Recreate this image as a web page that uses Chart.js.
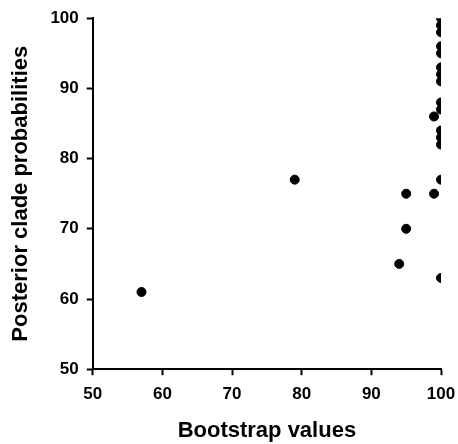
<!DOCTYPE html>
<html>
<head>
<meta charset="utf-8">
<script src="https://cdn.jsdelivr.net/npm/chart.js@4/dist/chart.umd.min.js"></script>
<style>
  html, body { margin: 0; padding: 0; background: #fff; }
  #wrap { width: 458px; height: 444px; }
</style>
</head>
<body>
<div id="wrap"><canvas id="scatter"></canvas></div>
<script>
// bootstrap value vs posterior clade probability, one pair per clade
var bootstrap = [57, 79, 94, 95, 95, 99, 99,
                 100, 100, 100, 100, 100, 100, 100, 100, 100, 100, 100, 100, 100, 100, 100];
var posterior = [61, 77, 65, 70, 75, 75, 86,
                 100, 99, 98, 96, 95, 93, 92, 91, 88, 87, 84, 83, 82, 77, 63];
var xTicks = [50, 60, 70, 80, 90, 100];
var yTicks = [50, 60, 70, 80, 90, 100];

var points = [];
for (var i = 0; i < bootstrap.length; i++) {
    points.push({ x: bootstrap[i], y: posterior[i] });
}

var tickFont = { family: 'Arial, "Liberation Sans", sans-serif', size: 17, weight: 'bold' };
var titleFont = { family: 'Arial, "Liberation Sans", sans-serif', size: 22, weight: 'bold' };

function axis(ticks, title, pad, titlePad) {
    return {
        type: 'linear',
        min: 50,
        max: 100,
        afterBuildTicks: function(scale) {
            scale.ticks = ticks.map(function(v) { return { value: v }; });
        },
        border: { color: '#000', width: 2 },
        grid: {
            drawOnChartArea: false,
            drawTicks: true,
            tickLength: 6,
            tickColor: '#000',
            tickWidth: 2
        },
        ticks: { color: '#000', font: tickFont, padding: pad },
        title: { display: true, text: title, color: '#000', font: titleFont, padding: titlePad }
    };
}

var xScale = axis(xTicks, 'Bootstrap values', 9, { top: 4, bottom: 0 });
// the last x label may hang a little past the right edge of the plot
xScale.afterFit = function(scale) {
    scale.paddingRight = 17;
};

new Chart(document.getElementById('scatter'), {
    type: 'scatter',
    data: {
        datasets: [{
            data: points,
            backgroundColor: '#000',
            borderColor: '#000',
            pointRadius: 4.5,
            pointHoverRadius: 4.5
        }]
    },
    options: {
        responsive: true,
        maintainAspectRatio: false,
        animation: false,
        layout: { padding: { top: 17, right: 0, left: 8, bottom: 0 } },
        plugins: { legend: { display: false }, tooltip: { enabled: false } },
        scales: {
            x: xScale,
            y: axis(yTicks, 'Posterior clade probabilities', 8, { top: 0, bottom: 8 })
        }
    }
});
</script>
</body>
</html>
